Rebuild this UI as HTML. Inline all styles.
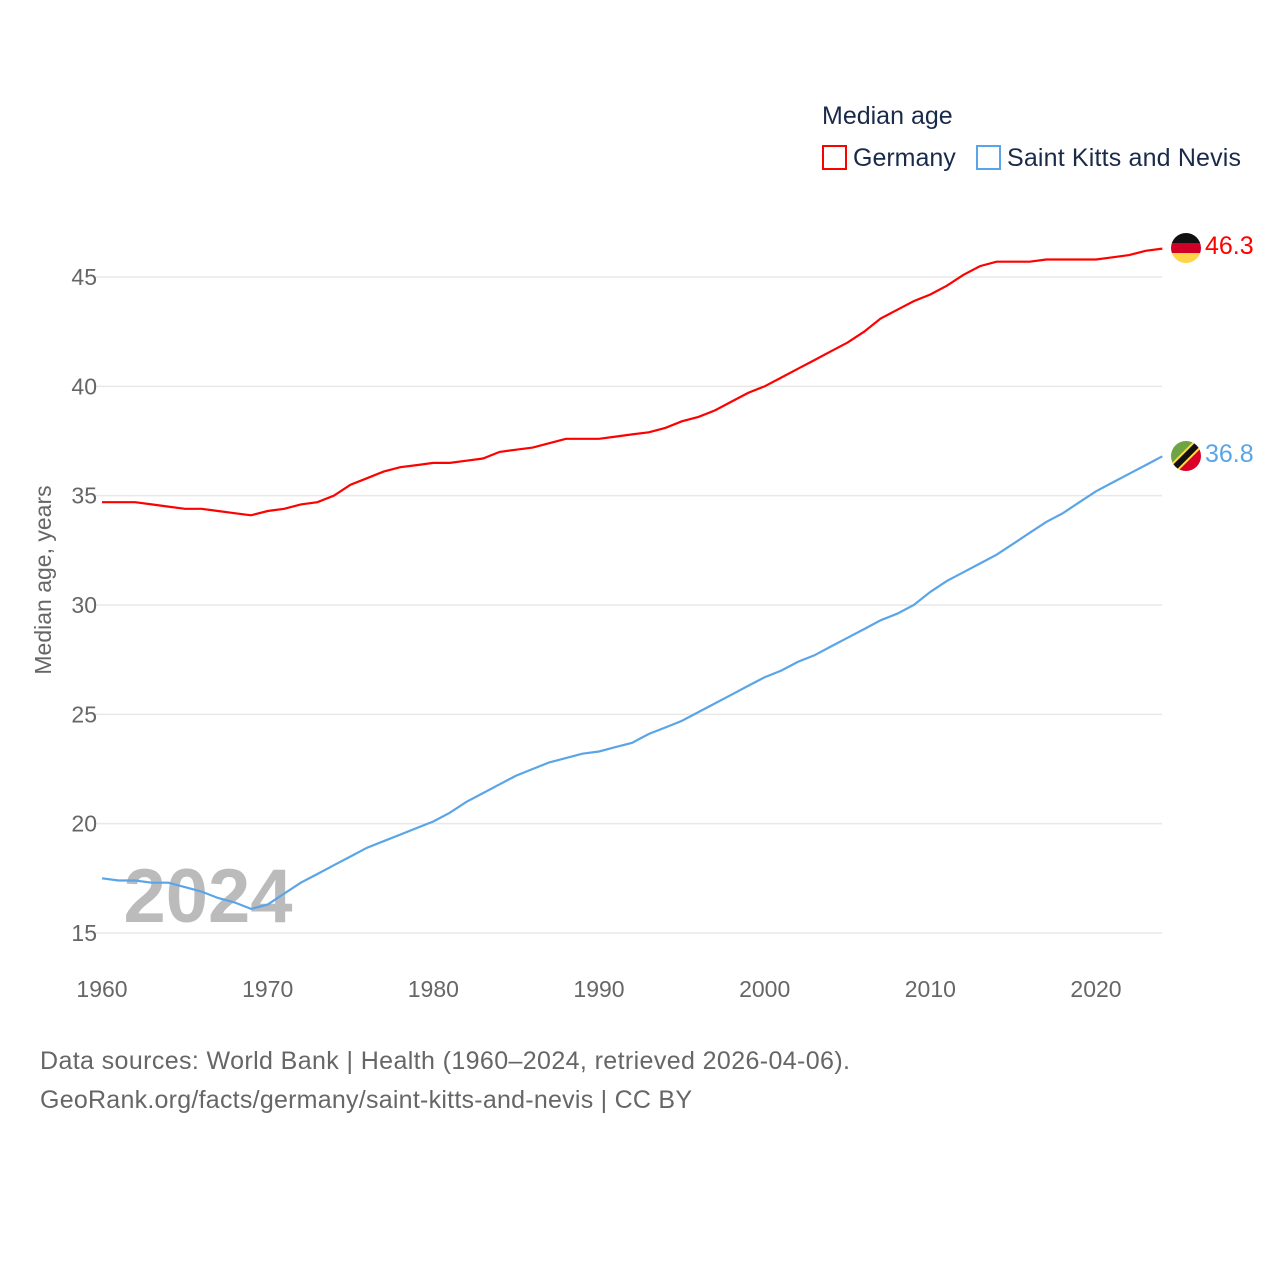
<!DOCTYPE html>
<html><head><meta charset="utf-8"><style>
body{margin:0;background:#fff;}
svg text{font-family:"Liberation Sans",sans-serif;}
</style></head><body>
<svg id="chart" width="1280" height="1280" xmlns="http://www.w3.org/2000/svg">
<text x="822" y="124" font-size="25" fill="#1a2a4a">Median age</text>
<g><rect x="823" y="146" width="23" height="23" fill="none" stroke="#f00" stroke-width="2"/><text x="853" y="166" font-size="25" fill="#1a2a4a">Germany</text></g>
<g><rect x="977" y="146" width="23" height="23" fill="none" stroke="#5aa5e8" stroke-width="2"/><text x="1007" y="166" font-size="25" fill="#1a2a4a" textLength="234">Saint Kitts and Nevis</text></g>
<g id="grid"></g><g id="xt"></g>
<text x="208" y="922" font-size="76" font-weight="bold" fill="#bbb" text-anchor="middle">2024</text>
<g id="lines"></g>
<text transform="translate(51,580) rotate(-90)" font-size="23" fill="#666" text-anchor="middle">Median age, years</text>
<g><clipPath id="c1"><circle cx="1186" cy="248" r="15"/></clipPath><g clip-path="url(#c1)"><rect x="1171" y="233" width="30" height="10" fill="#111"/><rect x="1171" y="243" width="30" height="10" fill="#d00027"/><rect x="1171" y="253" width="30" height="10" fill="#ffd447"/></g></g>
<g><clipPath id="c2"><circle cx="1186" cy="456" r="15"/></clipPath><g clip-path="url(#c2)"><polygon points="1171,441 1201,441 1171,471" fill="#6da544"/><polygon points="1201,441 1201,471 1171,471" fill="#d80027"/><line x1="1173" y1="469" x2="1199" y2="443" stroke="#ffda44" stroke-width="10"/><line x1="1173" y1="469" x2="1199" y2="443" stroke="#111" stroke-width="6"/></g></g>
<text x="1205" y="254" font-size="25" fill="#f00">46.3</text>
<text x="1205" y="462" font-size="25" fill="#5aa5e8">36.8</text>
<text x="40" y="1069" font-size="25" fill="#666" textLength="810">Data sources: World Bank | Health (1960–2024, retrieved 2026-04-06).</text>
<text x="40" y="1108" font-size="25" fill="#666" textLength="652">GeoRank.org/facts/germany/saint-kitts-and-nevis | CC BY</text>
</svg>
<script>
const startYear = 1960;
const yTicks = [15,20,25,30,35,40,45];
const xTicks = [1960,1970,1980,1990,2000,2010,2020];
const germany = [34.7,34.7,34.7,34.6,34.5,34.4,34.4,34.3,34.2,34.1,34.3,34.4,34.6,34.7,35.0,35.5,35.8,36.1,36.3,36.4,36.5,36.5,36.6,36.7,37.0,37.1,37.2,37.4,37.6,37.6,37.6,37.7,37.8,37.9,38.1,38.4,38.6,38.9,39.3,39.7,40.0,40.4,40.8,41.2,41.6,42.0,42.5,43.1,43.5,43.9,44.2,44.6,45.1,45.5,45.7,45.7,45.7,45.8,45.8,45.8,45.8,45.9,46.0,46.2,46.3];
const skn = [17.5,17.4,17.4,17.3,17.3,17.1,16.9,16.6,16.4,16.1,16.3,16.8,17.3,17.7,18.1,18.5,18.9,19.2,19.5,19.8,20.1,20.5,21.0,21.4,21.8,22.2,22.5,22.8,23.0,23.2,23.3,23.5,23.7,24.1,24.4,24.7,25.1,25.5,25.9,26.3,26.7,27.0,27.4,27.7,28.1,28.5,28.9,29.3,29.6,30.0,30.6,31.1,31.5,31.9,32.3,32.8,33.3,33.8,34.2,34.7,35.2,35.6,36.0,36.4,36.8];
const NS='http://www.w3.org/2000/svg';
const xs = y => 102 + (y-1960)*(994/60);
const ys = v => 933 - (v-15)*(656/30);
const grid=document.getElementById('grid');
yTicks.forEach(t=>{
  const l=document.createElementNS(NS,'line');
  l.setAttribute('x1',95);l.setAttribute('x2',1162);l.setAttribute('y1',ys(t));l.setAttribute('y2',ys(t));
  l.setAttribute('stroke','#e8e8e8');l.setAttribute('stroke-width','1.5');
  
  
  grid.appendChild(l);
  const tx=document.createElementNS(NS,'text');
  tx.setAttribute('x',97);tx.setAttribute('y',ys(t)+8);tx.setAttribute('text-anchor','end');
  tx.setAttribute('font-size','23');tx.setAttribute('fill','#666');tx.textContent=t;
  
  
  grid.appendChild(tx);
});
const xt=document.getElementById('xt');
xTicks.forEach(t=>{
  const tx=document.createElementNS(NS,'text');
  tx.setAttribute('x',xs(t));tx.setAttribute('y',997);tx.setAttribute('text-anchor','middle');
  tx.setAttribute('font-size','23');tx.setAttribute('fill','#666');tx.textContent=t;
  
  
  xt.appendChild(tx);
});
const lines=document.getElementById('lines');
[[germany,'#f00','germany-line'],[skn,'#5aa5e8','saint-kitts-line']].forEach(([d,c,n])=>{
  const p=document.createElementNS(NS,'path');
  p.setAttribute('d',d.map((v,i)=>(i?'L':'M')+xs(startYear+i).toFixed(1)+','+ys(v).toFixed(1)).join(''));
  p.setAttribute('fill','none');p.setAttribute('stroke',c);p.setAttribute('stroke-width','2.2');
  
  
  lines.appendChild(p);
});
</script>
</body></html>
